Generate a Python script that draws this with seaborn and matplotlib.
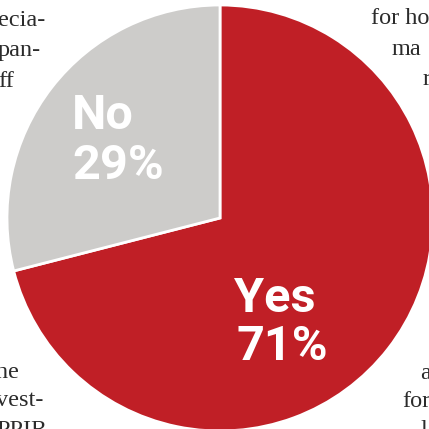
import matplotlib
matplotlib.use("Agg")
import matplotlib.pyplot as plt
import seaborn as sns

sns.set_theme(style="white")

categories = ["Yes", "No"]
values = [71, 29]
colors = ["#C01F26", "#CDCCCA"]

label_font = ["Roboto", "DejaVu Sans"]
serif = ["Liberation Serif", "DejaVu Serif"]

fig = plt.figure(figsize=(4.29, 4.29), dpi=100)
fig.patch.set_facecolor("white")
W = 429.0
cx, cy, r = 220.0, 218.0, 213.0
ax = fig.add_axes([(cx - r) / W, (W - cy - r) / W, 2 * r / W, 2 * r / W])
ax.pie(values, colors=colors, startangle=90, counterclock=False,
       radius=1.0, wedgeprops=dict(edgecolor="white", linewidth=2))
ax.set_xlim(-1, 1)
ax.set_ylim(-1, 1)
ax.set_aspect("equal")
ax.axis("off")

def px(x, y):
    return (x - cx) / r, (cy - y) / r

lab = dict(color="white", fontweight="bold", family=label_font,
           fontsize=35, ha="left", va="baseline")
ax.text(*px(72, 129), "No", **lab)
ax.text(*px(72, 179), "29%", **lab)
ax.text(*px(234, 312), "Yes", **lab)
ax.text(*px(237, 360), "71%", **lab)

body = dict(family=serif, fontsize=17.5, color="#2b2b2b", va="baseline")
def ft(x, y, s, ha="left"):
    fig.text(x / W, 1 - y / W, s, ha=ha, **body)

ft(-2, 26, "ecia-")
ft(-2, 56, "pan-")
ft(-2, 87, "ff")
ft(371, 24, "for ho")
ft(392, 55, "ma")
ft(423, 85, "r")
ft(-10, 378, "the")
ft(-4, 406, "vest-")
ft(-4, 436, "PPIR")
ft(420, 379, "a")
ft(402, 407, "for")
ft(421, 436, "l")

fig.savefig("out.png", dpi=100, facecolor="white")
